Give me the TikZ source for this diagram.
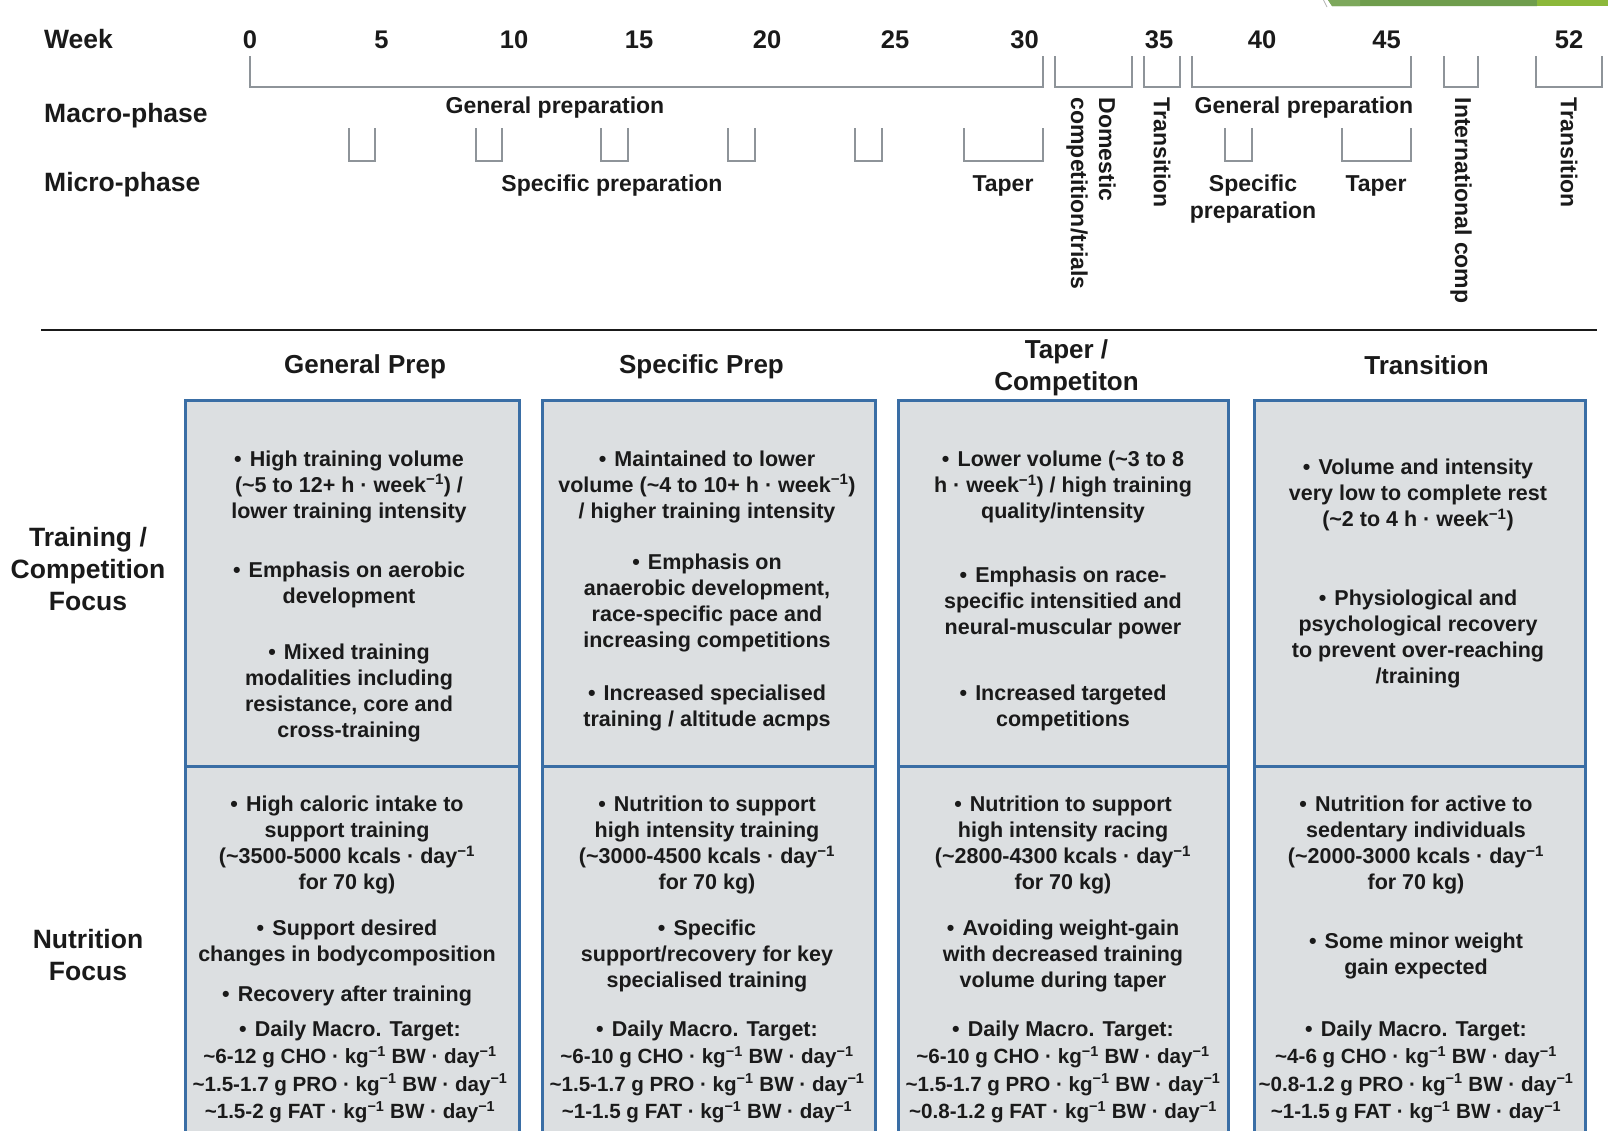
\documentclass[tikz,border=0pt]{standalone}
\usepackage{fontspec}
\setmainfont{Liberation Sans}
\newcommand\apx{\textasciitilde}
\newcommand\mone{\textsuperscript{−1}}
\newcommand\bul{•\hspace{0.38em}}
\definecolor{cellblue}{HTML}{3A6EA5}
\definecolor{cellgrey}{HTML}{DCDFE1}
\definecolor{brkgrey}{HTML}{8E9499}
\definecolor{greenA}{HTML}{6F9D4D}
\definecolor{greenC}{HTML}{7DA85C}
\definecolor{greenB}{HTML}{8CB83A}
\definecolor{txtcol}{HTML}{1A1A1A}
\tikzset{
  lab/.style={font=\bfseries\fontsize{26.5}{32}\selectfont, inner sep=0, anchor=west, text=txtcol},
  rowlab/.style={font=\bfseries\fontsize{26.5}{32}\selectfont, inner sep=0, align=center, text=txtcol},
  num/.style={font=\bfseries\fontsize{25.5}{30}\selectfont, inner sep=0, text=txtcol, yshift=-1pt},
  phase/.style={font=\bfseries\fontsize{23}{28}\selectfont, inner sep=0, text=txtcol},
  vphase/.style={phase, rotate=-90, anchor=west, align=left},
  brk/.style={draw=brkgrey, line width=1.6pt},
  head/.style={font=\bfseries\fontsize{26}{32}\selectfont, inner sep=0, align=center, text=txtcol},
  cell/.style={draw=cellblue, fill=cellgrey, line width=3pt},
  txt/.style={font=\bfseries\fontsize{21.5}{26}\selectfont, inner sep=0, align=center, text=txtcol, yshift=-3pt},
  mtxt/.style={font=\bfseries\fontsize{21.5}{27.5}\selectfont, inner sep=0, align=center, text=txtcol, yshift=-3pt},
}
\newcommand\mac[1]{{\fontsize{20.6}{27.5}\selectfont #1}}
\begin{document}
\begin{tikzpicture}[x=1pt,y=-1pt]
\useasboundingbox (0,0) rectangle (1608,1130);
\clip (0,0) rectangle (1608,1130);
\fill[white] (0,0) rectangle (1608,1130);
% slide decoration
\fill[greenA] (1328,0) -- (1537,0) -- (1537,6) -- (1332,6) -- cycle;
\fill[greenC] (1328,0) -- (1360,0) -- (1360,6) -- (1332,6) -- cycle;
\fill[greenB] (1537,0) rectangle (1608,6);
\draw[gray!60, line width=0.8pt] (1323.5,0) -- (1327,7);
% row labels top
\node[lab] (week) at (44,39) {Week};
\node[lab] (macro) at (44,116) {Macro-phase};
\node[lab] (micro) at (44,184.5) {Micro-phase};
% week numbers
\node[num] (w0) at (250,39) {0};
\node[num] (w5) at (381.5,39) {5};
\node[num] (w10) at (514,39) {10};
\node[num] (w15) at (639,39) {15};
\node[num] (w20) at (767,39) {20};
\node[num] (w25) at (895,39) {25};
\node[num] (w30) at (1024.5,39) {30};
\node[num] (w35) at (1159,39) {35};
\node[num] (w40) at (1262,39) {40};
\node[num] (w45) at (1386.5,39) {45};
\node[num] (w52) at (1569,39) {52};
% macro brackets
\foreach \a/\b in {250/1043, 1055/1132, 1144/1180, 1192/1411, 1444/1478, 1536/1602}
  \draw[brk] (\a,56) -- (\a,87) -- (\b,87) -- (\b,56);
% micro brackets
\foreach \a/\b in {349/375, 476/502, 601/628, 728/755, 855/882, 964/1043, 1225/1252, 1342/1411}
  \draw[brk] (\a,128) -- (\a,161) -- (\b,161) -- (\b,128);
% macro labels
\node[phase] (gp1) at (555,108) {General preparation};
\node[phase] (gp2) at (1304,108) {General preparation};
\node[vphase] (dom) at (1091,97.5) {Domestic\\competition/trials};
\node[vphase] (tr1) at (1162,97.5) {Transition};
\node[vphase] (intl) at (1461,97.5) {International comp};
\node[vphase] (tr2) at (1569,97.5) {Transition};
% micro labels
\node[phase] (sp1) at (612,185.5) {Specific preparation};
\node[phase] (tp1) at (1003,185.5) {Taper};
\node[phase, align=center, font=\bfseries\fontsize{23}{27.5}\selectfont] (sp2) at (1253,199) {Specific\\preparation};
\node[phase] (tp2) at (1376,185.5) {Taper};
% rule
\draw[line width=2.5pt, txtcol] (41,330) -- (1597,330);
% headers
\node[head] (h1) at (365,367) {General Prep};
\node[head] (h2) at (701.5,367) {Specific Prep};
\node[head] (h3) at (1066.5,367.5) {Taper /\\Competiton};
\node[head] (h4) at (1426.5,365) {Transition};
% row labels
\node[rowlab] (rl1) at (88,569) {Training /\\Competition\\Focus};
\node[rowlab] (rl2) at (88,955) {Nutrition\\Focus};
% cells
\foreach \a/\b in {185.6/519, 542.5/875, 898/1228.5, 1254/1585.5}{
  \draw[cell] (\a,400) rectangle (\b,766);
  \draw[cell] (\a,766) rectangle (\b,1150);
}
% column 1
\node[txt] (t11) at (349,484) {\bul High training volume\\(\apx5 to 12+ h · week\mone) /\\lower training intensity};
\node[txt] (t12) at (349,581.5) {\bul Emphasis on aerobic\\development};
\node[txt] (t13) at (349,689.7) {\bul Mixed training\\modalities including\\resistance, core and\\cross-training};
\node[txt] (n11) at (347,842.4) {\bul High caloric intake to\\support training\\(\apx3500-5000 kcals · day\mone\\for 70 kg)};
\node[txt] (n12) at (347,940) {\bul Support desired\\changes in bodycomposition};
\node[txt] (n13) at (347,992.7) {\bul Recovery after training};
\node[mtxt] (n14) at (350,1069) {\bul Daily Macro. Target:\\\mac{\apx6-12 g CHO · kg\mone{} BW · day\mone}\\\mac{\apx1.5-1.7 g PRO · kg\mone{} BW · day\mone}\\\mac{\apx1.5-2 g FAT · kg\mone{} BW · day\mone}};
% column 2
\node[txt] (t21) at (707,484) {\bul Maintained to lower\\volume (\apx4 to 10+ h · week\mone)\\/ higher training intensity};
\node[txt] (t22) at (707,600.4) {\bul Emphasis on\\anaerobic development,\\race-specific pace and\\increasing competitions};
\node[txt] (t23) at (707,704.5) {\bul Increased specialised\\training / altitude acmps};
\node[txt] (n21) at (707,842.4) {\bul Nutrition to support\\high intensity training\\(\apx3000-4500 kcals · day\mone\\for 70 kg)};
\node[txt] (n22) at (707,953.2) {\bul Specific\\support/recovery for key\\specialised training};
\node[mtxt] (n24) at (707,1069) {\bul Daily Macro. Target:\\\mac{\apx6-10 g CHO · kg\mone{} BW · day\mone}\\\mac{\apx1.5-1.7 g PRO · kg\mone{} BW · day\mone}\\\mac{\apx1-1.5 g FAT · kg\mone{} BW · day\mone}};
% column 3
\node[txt] (t31) at (1063,484) {\bul Lower volume (\apx3 to 8\\h · week\mone) / high training\\quality/intensity};
\node[txt] (t32) at (1063,600.4) {\bul Emphasis on race-\\specific intensitied and\\neural-muscular power};
\node[txt] (t33) at (1063,704.5) {\bul Increased targeted\\competitions};
\node[txt] (n31) at (1063,842.4) {\bul Nutrition to support\\high intensity racing\\(\apx2800-4300 kcals · day\mone\\for 70 kg)};
\node[txt] (n32) at (1063,953.2) {\bul Avoiding weight-gain\\with decreased training\\volume during taper};
\node[mtxt] (n34) at (1063,1069) {\bul Daily Macro. Target:\\\mac{\apx6-10 g CHO · kg\mone{} BW · day\mone}\\\mac{\apx1.5-1.7 g PRO · kg\mone{} BW · day\mone}\\\mac{\apx0.8-1.2 g FAT · kg\mone{} BW · day\mone}};
% column 4
\node[txt] (t41) at (1418,492.2) {\bul Volume and intensity\\very low to complete rest\\(\apx2 to 4 h · week\mone)};
\node[txt] (t42) at (1418,635.8) {\bul Physiological and\\psychological recovery\\to prevent over-reaching\\/training};
\node[txt] (n41) at (1416,842.4) {\bul Nutrition for active to\\sedentary individuals\\(\apx2000-3000 kcals · day\mone\\for 70 kg)};
\node[txt] (n42) at (1416,953.2) {\bul Some minor weight\\gain expected};
\node[mtxt] (n44) at (1416,1069) {\bul Daily Macro. Target:\\\mac{\apx4-6 g CHO · kg\mone{} BW · day\mone}\\\mac{\apx0.8-1.2 g PRO · kg\mone{} BW · day\mone}\\\mac{\apx1-1.5 g FAT · kg\mone{} BW · day\mone}};
\end{tikzpicture}
\end{document}
